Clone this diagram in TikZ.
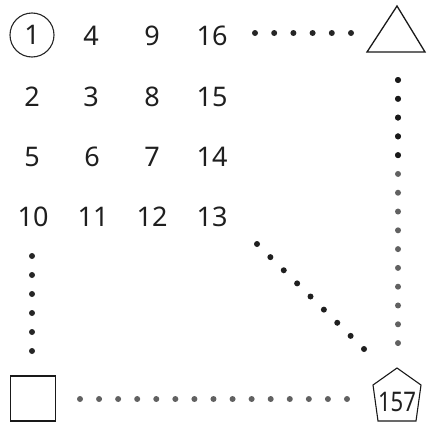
\documentclass[tikz,border=0pt]{standalone}
\usepackage{fontspec}
\setmainfont{Noto Sans}
\begin{document}
\begin{tikzpicture}[x=1pt,y=-1pt,
  num/.style={inner sep=0pt,text=black!88,font=\fontsize{27}{30}\selectfont},
  shapeline/.style={draw=black!90,line width=1.3pt,line join=miter},
  dotline/.style={line width=6pt,line cap=round,dash pattern=on 0pt off #1,shorten >=-0.6pt},
]
\path[use as bounding box] (0,0) rectangle (427,423);
% number grid
\node[num,circle,draw=black!85,line width=1.1pt,minimum size=44pt] (n1) at (32,35) {1};
\node[num] (n4) at (91,36) {4};
\node[num] (n9) at (152,36) {9};
\node[num] (n16) at (212,36) {16};
\node[num] (n2) at (32,97) {2};
\node[num] (n3) at (91,97) {3};
\node[num] (n8) at (152,97) {8};
\node[num] (n15) at (212,97) {15};
\node[num] (n5) at (32,157) {5};
\node[num] (n6) at (92,157) {6};
\node[num] (n7) at (152,157) {7};
\node[num] (n14) at (212,157) {14};
\node[num] (n10) at (33,217) {10};
\node[num] (n11) at (93,217) {11};
\node[num] (n12) at (152,217) {12};
\node[num] (n13) at (212,217) {13};
% triangle
\coordinate (ta) at (397,6);
\coordinate (tl) at (367,52);
\coordinate (tr) at (425,52);
\draw[shapeline] (ta) -- (tr) -- (tl) -- cycle;
% square
\node[shapeline,minimum size=45pt,inner sep=0pt] (sq) at (33,398.5) {};
% pentagon
\coordinate (pa) at (397,368);
\coordinate (pr) at (421,385);
\coordinate (pbr) at (416,421);
\coordinate (pbl) at (378,421);
\coordinate (pl) at (373,385);
\draw[shapeline,line width=1.1pt] (pa) -- (pr) -- (pbr) -- (pbl) -- (pl) -- cycle;
\node[num,xscale=0.82] (p157) at (397,402) {157};
% dotted connectors
\coordinate (t0) at (255,33);
\coordinate (t1) at (351,33);
\draw[dotline=19.2pt,black!85] (t0) -- (t1);
\coordinate (r0) at (398,80);
\coordinate (rm) at (398,155.2);
\coordinate (r1) at (398,343);
\draw[dotline=18.79pt,black!62] (r0) -- (r1);
\draw[dotline=18.79pt,black!90] (r0) -- (rm);
\coordinate (l0) at (32,256);
\coordinate (l1) at (32,351);
\draw[dotline=19pt,black!85] (l0) -- (l1);
\coordinate (b0) at (80,399);
\coordinate (b1) at (347,399);
\draw[dotline=19.07pt,black!62] (b0) -- (b1);
\coordinate (d0) at (257,244);
\coordinate (d1) at (364,349);
\draw[dotline=18.74pt,black!88] (d0) -- (d1);
\end{tikzpicture}
\end{document}
